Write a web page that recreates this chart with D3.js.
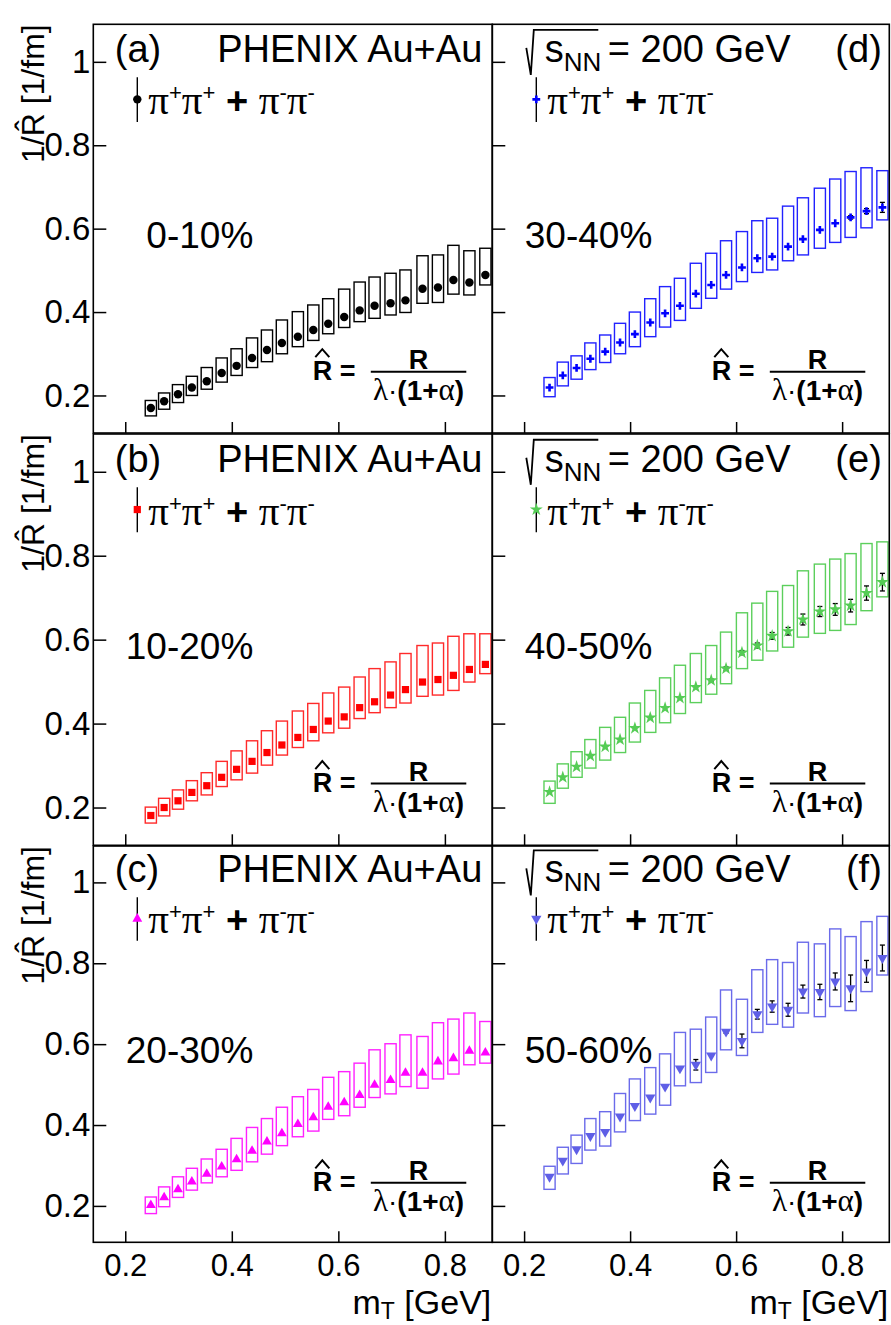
<!DOCTYPE html>
<html lang="en">
<head>
<meta charset="utf-8">
<title>1/R vs mT, PHENIX Au+Au</title>
<script src="https://cdn.jsdelivr.net/npm/d3@7"></script>
<style>
  body { margin: 0; background: white; }
  svg text { font-family: "Liberation Sans", Arial, sans-serif; fill: #000; }
</style>
</head>
<body>
<div id="chart"></div>
<script>
// ---- data ----
const mT = [0.248, 0.273, 0.299, 0.325, 0.353, 0.381, 0.409, 0.438, 0.466, 0.494, 0.524, 0.553,
            0.581, 0.611, 0.640, 0.668, 0.698, 0.726, 0.758, 0.787, 0.816, 0.846, 0.876];

// 0-10%
const aVal = [0.170, 0.186, 0.203, 0.219, 0.234, 0.254, 0.271, 0.290, 0.309, 0.326, 0.341, 0.357, 0.372, 0.388, 0.404, 0.415, 0.421, 0.428, 0.456, 0.459, 0.477, 0.471, 0.489];
const aLo  = [0.151, 0.167, 0.183, 0.200, 0.215, 0.232, 0.248, 0.267, 0.281, 0.300, 0.317, 0.332, 0.348, 0.363, 0.377, 0.385, 0.393, 0.399, 0.421, 0.423, 0.443, 0.441, 0.465];
const aHi  = [0.188, 0.206, 0.226, 0.246, 0.267, 0.290, 0.312, 0.338, 0.357, 0.381, 0.401, 0.417, 0.432, 0.455, 0.472, 0.484, 0.493, 0.501, 0.535, 0.537, 0.560, 0.547, 0.553];
// 10-20%
const bVal = [0.181, 0.200, 0.216, 0.236, 0.252, 0.272, 0.291, 0.310, 0.331, 0.349, 0.367, 0.386, 0.406, 0.416, 0.438, 0.452, 0.468, 0.481, 0.499, 0.505, 0.515, 0.529, 0.541];
const bLo  = [0.163, 0.180, 0.196, 0.216, 0.230, 0.250, 0.266, 0.282, 0.301, 0.325, 0.343, 0.359, 0.378, 0.389, 0.412, 0.426, 0.438, 0.449, 0.465, 0.468, 0.479, 0.499, 0.519];
const bHi  = [0.201, 0.222, 0.242, 0.264, 0.283, 0.310, 0.335, 0.359, 0.383, 0.406, 0.430, 0.448, 0.473, 0.487, 0.511, 0.531, 0.547, 0.567, 0.586, 0.592, 0.608, 0.614, 0.614];
// 20-30%
const cVal = [0.202, 0.221, 0.241, 0.260, 0.279, 0.297, 0.315, 0.336, 0.359, 0.379, 0.402, 0.419, 0.445, 0.456, 0.474, 0.499, 0.511, 0.529, 0.529, 0.557, 0.565, 0.583, 0.579];
const cLo  = [0.181, 0.198, 0.221, 0.239, 0.257, 0.272, 0.288, 0.309, 0.328, 0.349, 0.371, 0.385, 0.414, 0.423, 0.444, 0.468, 0.477, 0.495, 0.491, 0.514, 0.526, 0.549, 0.553];
const cHi  = [0.222, 0.247, 0.272, 0.293, 0.316, 0.340, 0.367, 0.394, 0.416, 0.444, 0.470, 0.488, 0.518, 0.532, 0.553, 0.586, 0.601, 0.623, 0.619, 0.653, 0.662, 0.677, 0.656];
// 30-40%
const dVal = [0.219, 0.248, 0.266, 0.288, 0.305, 0.327, 0.347, 0.375, 0.397, 0.415, 0.444, 0.465, 0.489, 0.507, 0.529, 0.533, 0.557, 0.575, 0.597, 0.613, 0.627, 0.642, 0.651];
const dLo  = [0.197, 0.223, 0.239, 0.262, 0.279, 0.300, 0.317, 0.341, 0.364, 0.380, 0.409, 0.433, 0.455, 0.473, 0.495, 0.501, 0.523, 0.537, 0.553, 0.567, 0.579, 0.602, 0.621];
const dHi  = [0.243, 0.280, 0.295, 0.326, 0.345, 0.373, 0.400, 0.432, 0.461, 0.481, 0.517, 0.541, 0.571, 0.593, 0.619, 0.625, 0.654, 0.674, 0.697, 0.719, 0.737, 0.746, 0.739];
const dErr = [0, 0, 0, 0, 0, 0, 0, 0, 0, 0, 0, 0, 0, 0, 0, 0, 0, 0, 0, 0, 0.004, 0.006, 0.012];
// 40-50%
const eVal = [0.237, 0.272, 0.297, 0.323, 0.345, 0.362, 0.389, 0.414, 0.437, 0.461, 0.487, 0.503, 0.531, 0.569, 0.586, 0.609, 0.620, 0.648, 0.667, 0.672, 0.681, 0.711, 0.737];
const eLo  = [0.210, 0.246, 0.272, 0.294, 0.313, 0.331, 0.356, 0.379, 0.402, 0.424, 0.450, 0.470, 0.495, 0.531, 0.551, 0.573, 0.582, 0.606, 0.615, 0.622, 0.636, 0.669, 0.702];
const eHi  = [0.263, 0.304, 0.333, 0.362, 0.391, 0.415, 0.449, 0.479, 0.509, 0.539, 0.567, 0.586, 0.618, 0.664, 0.687, 0.715, 0.729, 0.764, 0.780, 0.792, 0.805, 0.829, 0.833];
const eErr = [0, 0, 0, 0, 0, 0, 0, 0, 0, 0, 0, 0.003, 0.004, 0.005, 0.006, 0.008, 0.009, 0.013, 0.012, 0.014, 0.015, 0.017, 0.021];
// 50-60%
const fVal = [0.272, 0.312, 0.340, 0.373, 0.383, 0.421, 0.447, 0.468, 0.495, 0.540, 0.549, 0.572, 0.631, 0.608, 0.674, 0.693, 0.685, 0.730, 0.729, 0.755, 0.738, 0.780, 0.813];
const fLo  = [0.241, 0.279, 0.305, 0.338, 0.348, 0.383, 0.411, 0.427, 0.449, 0.497, 0.505, 0.530, 0.586, 0.572, 0.629, 0.649, 0.642, 0.677, 0.668, 0.693, 0.683, 0.730, 0.771];
const fHi  = [0.298, 0.345, 0.375, 0.416, 0.433, 0.478, 0.514, 0.542, 0.576, 0.629, 0.637, 0.667, 0.734, 0.711, 0.784, 0.809, 0.802, 0.852, 0.848, 0.885, 0.866, 0.903, 0.916];
const fErr = [0, 0, 0, 0, 0, 0, 0, 0, 0, 0, 0.013, 0, 0.004, 0.017, 0.012, 0.014, 0.016, 0.016, 0.019, 0.021, 0.033, 0.027, 0.032];

const centralities = ["0-10%", "10-20%", "20-30%", "30-40%", "40-50%", "50-60%"];
const panelTags = ["(a)", "(b)", "(c)", "(d)", "(e)", "(f)"];
const xTicks = [0.2, 0.4, 0.6, 0.8];
const xTickLabels = ["0.2", "0.4", "0.6", "0.8"];
const yTicks = [0.2, 0.4, 0.6, 0.8, 1];
const yTickLabels = ["0.2", "0.4", "0.6", "0.8", "1"];

// ---- layout ----
const W = 891, H = 1325;
const xDomain = [0.14, 0.889], yDomain = [0.11, 1.09];
const cols = [{left: 93.3, right: 492.3}, {left: 492.3, right: 889.3}];
const rows = [{top: 24.3, bottom: 433}, {top: 434, bottom: 845.3}, {top: 846, bottom: 1242.3}];
const BOX_HALF = 0.0105;
const SANS = '"Liberation Sans", Arial, sans-serif';
const SERIF = '"Liberation Serif", "Times New Roman", serif';

const panels = [
  {row: 0, col: 0, val: aVal, lo: aLo, hi: aHi, err: null, color: "#000000", box: "#000000", sym: d3.symbolCircle, size: 56, rot: 0},
  {row: 1, col: 0, val: bVal, lo: bLo, hi: bHi, err: null, color: "#ff0000", box: "#ff2a2a", sym: d3.symbolSquare, size: 52, rot: 0},
  {row: 2, col: 0, val: cVal, lo: cLo, hi: cHi, err: null, color: "#ff00ff", box: "#ff22ff", sym: d3.symbolTriangle, size: 42, rot: 0},
  {row: 0, col: 1, val: dVal, lo: dLo, hi: dHi, err: dErr, color: "#0000ff", box: "#2222ff", sym: d3.symbolCross, size: 34, rot: 0},
  {row: 1, col: 1, val: eVal, lo: eLo, hi: eHi, err: eErr, color: "#55cc55", box: "#5ccf5c", sym: d3.symbolStar, size: 52, rot: 0},
  {row: 2, col: 1, val: fVal, lo: fLo, hi: fHi, err: fErr, color: "#5f5fe6", box: "#6b6bea", sym: d3.symbolTriangle, size: 46, rot: 180}
];

const svg = d3.select("#chart").append("svg")
  .attr("width", W).attr("height", H)
  .style("background", "white");

panels.forEach((p, k) => {
  const c = cols[p.col], r = rows[p.row];
  const x = d3.scaleLinear().domain(xDomain).range([c.left, c.right]);
  const y = d3.scaleLinear().domain(yDomain).range([r.bottom, r.top]);
  const g = svg.append("g");
  const pts = mT.map((m, i) => ({m, v: p.val[i], lo: p.lo[i], hi: p.hi[i], e: p.err ? p.err[i] : 0}));

  // axes (ticks pointing inward)
  g.append("g")
    .attr("transform", `translate(${c.left},0)`)
    .call(d3.axisLeft(y).tickValues(yTicks).tickSize(-13).tickPadding(3)
      .tickFormat((d, i) => p.col === 0 ? yTickLabels[i] : ""))
    .call(s => s.select(".domain").remove())
    .call(s => s.selectAll("line").attr("stroke-width", 1.5))
    .call(s => s.selectAll("text").style("font-size", "33px").style("font-family", SANS));

  g.append("g")
    .attr("transform", `translate(0,${r.bottom})`)
    .call(d3.axisBottom(x).tickValues(xTicks).tickSize(-11).tickPadding(12)
      .tickFormat((d, i) => p.row === 2 ? xTickLabels[i] : ""))
    .call(s => s.select(".domain").remove())
    .call(s => s.selectAll("line").attr("stroke-width", 1.5))
    .call(s => s.selectAll("text").style("font-size", "31px").style("font-family", SANS));

  // systematic boxes
  g.selectAll("rect.sys").data(pts).enter().append("rect")
    .attr("class", "sys")
    .attr("x", d => x(d.m - BOX_HALF))
    .attr("width", d => x(d.m + BOX_HALF) - x(d.m - BOX_HALF))
    .attr("y", d => y(d.hi))
    .attr("height", d => y(d.lo) - y(d.hi))
    .attr("fill", "none")
    .attr("stroke", p.box)
    .attr("stroke-width", 1.4);

  // statistical error bars
  const withErr = pts.filter(d => d.e > 0);
  const eb = g.selectAll("g.err").data(withErr).enter().append("g").attr("class", "err")
    .attr("stroke", "#000").attr("stroke-width", 1.3);
  eb.append("line").attr("x1", d => x(d.m)).attr("x2", d => x(d.m))
    .attr("y1", d => y(d.v - d.e)).attr("y2", d => y(d.v + d.e));
  eb.append("line").attr("x1", d => x(d.m) - 2.5).attr("x2", d => x(d.m) + 2.5)
    .attr("y1", d => y(d.v - d.e)).attr("y2", d => y(d.v - d.e));
  eb.append("line").attr("x1", d => x(d.m) - 2.5).attr("x2", d => x(d.m) + 2.5)
    .attr("y1", d => y(d.v + d.e)).attr("y2", d => y(d.v + d.e));

  // markers
  const symbol = d3.symbol().type(p.sym).size(p.size);
  g.selectAll("path.pt").data(pts).enter().append("path")
    .attr("class", "pt")
    .attr("d", symbol)
    .attr("transform", d => `translate(${x(d.m)},${y(d.v)}) rotate(${p.rot})`)
    .attr("fill", p.color);

  // frame
  g.append("rect")
    .attr("x", c.left).attr("y", r.top)
    .attr("width", c.right - c.left).attr("height", r.bottom - r.top)
    .attr("fill", "none").attr("stroke", "#000").attr("stroke-width", 1.6);

  // header line
  const yHead = y(1.0);
  if (p.col === 0) {
    g.append("text").attr("x", c.left + 21.5).attr("y", yHead)
      .style("font-size", "38px").text(panelTags[k]);
    g.append("text").attr("x", c.left + 389).attr("y", yHead)
      .attr("text-anchor", "end").style("font-size", "38px").text("PHENIX Au+Au");
  } else {
    g.append("path")
      .attr("d", `M${c.left + 34},${yHead - 14} L${c.left + 38.5},${yHead + 13} L${c.left + 41.5},${yHead - 32} H${c.left + 106}`)
      .attr("fill", "none").attr("stroke", "#000").attr("stroke-width", 1.8);
    const t = g.append("text").attr("x", c.left + 52.5).attr("y", yHead).style("font-size", "38px");
    t.append("tspan").text("s");
    t.append("tspan").attr("dy", 9).style("font-size", "26px").text("NN");
    t.append("tspan").attr("x", c.left + 115.5).attr("dy", -9).text("= 200 GeV");
    g.append("text").attr("x", c.left + 389.5).attr("y", yHead)
      .attr("text-anchor", "end").style("font-size", "38px").text(panelTags[k]);
  }

  // legend entry
  const lx = c.left + 44;
  g.append("line").attr("x1", lx).attr("x2", lx)
    .attr("y1", y(0.963)).attr("y2", y(0.856))
    .attr("stroke", "#000").attr("stroke-width", 1.4);
  g.append("path").attr("d", symbol)
    .attr("transform", `translate(${lx},${y(0.91)}) rotate(${p.rot})`)
    .attr("fill", p.color);
  const lt = g.append("text").attr("x", c.left + 55).attr("y", y(0.874))
    .style("font-size", "38px").style("white-space", "pre");
  const piParts = [["π", 0], ["+", 1], ["π", 0], ["+", 1], [" + ", 2], ["π", 0], ["-", 1], ["π", 0], ["-", 1]];
  let prevSup = false;
  piParts.forEach(([s, kind]) => {
    const ts = lt.append("tspan").text(s);
    let dy = 0;
    if (kind === 1 && !prevSup) dy = -14;
    if (kind !== 1 && prevSup) dy = 14;
    if (dy) ts.attr("dy", dy);
    if (kind === 1) ts.style("font-size", "22px");
    if (kind === 0) ts.style("font-family", SERIF).style("font-size", "41px");
    if (kind === 2) ts.style("font-weight", "bold");
    prevSup = kind === 1;
  });

  // centrality label
  g.append("text").attr("x", c.left + 160).attr("y", y(0.553))
    .attr("text-anchor", "end").style("font-size", "37px").text(centralities[k]);

  // formula R-hat = R / lambda(1+alpha)
  const fy = y(0.257);
  const fx = c.left + 219.5;
  g.append("text").attr("x", fx).attr("y", fy + 8)
    .style("font-size", "27px").style("font-weight", "bold").style("white-space", "pre").text("R =");
  g.append("path")
    .attr("d", `M${fx + 2.5},${fy - 14.5} L${fx + 9.5},${fy - 22.5} L${fx + 16.5},${fy - 14.5}`)
    .attr("fill", "none").attr("stroke", "#000").attr("stroke-width", 2);
  const lx0 = c.left + 277.5, lx1 = c.left + 373;
  g.append("line").attr("x1", lx0).attr("x2", lx1).attr("y1", fy).attr("y2", fy)
    .attr("stroke", "#000").attr("stroke-width", 2);
  g.append("text").attr("x", (lx0 + lx1) / 2).attr("y", fy - 3)
    .attr("text-anchor", "middle").style("font-size", "27px").style("font-weight", "bold").text("R");
  const den = g.append("text").attr("x", (lx0 + lx1) / 2).attr("y", fy + 28)
    .attr("text-anchor", "middle").style("font-size", "28px");
  den.append("tspan").style("font-family", SERIF).style("font-size", "31px").text("λ");
  den.append("tspan").text("·");
  den.append("tspan").style("font-weight", "bold").text("(1+");
  den.append("tspan").style("font-family", SERIF).style("font-size", "31px").text("α");
  den.append("tspan").style("font-weight", "bold").text(")");

  // axis titles
  if (p.col === 0) {
    g.append("text")
      .attr("transform", `translate(43.5,${r.top}) rotate(-90)`)
      .attr("text-anchor", "end").style("font-size", "32px")
      .text("1/R\u0302 [1/fm]");
  }
  if (p.row === 2) {
    const xt = g.append("text").attr("x", c.right - 1).attr("y", 1314)
      .attr("text-anchor", "end").style("font-size", "34px").style("white-space", "pre");
    xt.append("tspan").text("m");
    xt.append("tspan").attr("dy", 5).style("font-size", "23px").text("T");
    xt.append("tspan").attr("dy", -5).text(" [GeV]");
  }
});
</script>
</body>
</html>
